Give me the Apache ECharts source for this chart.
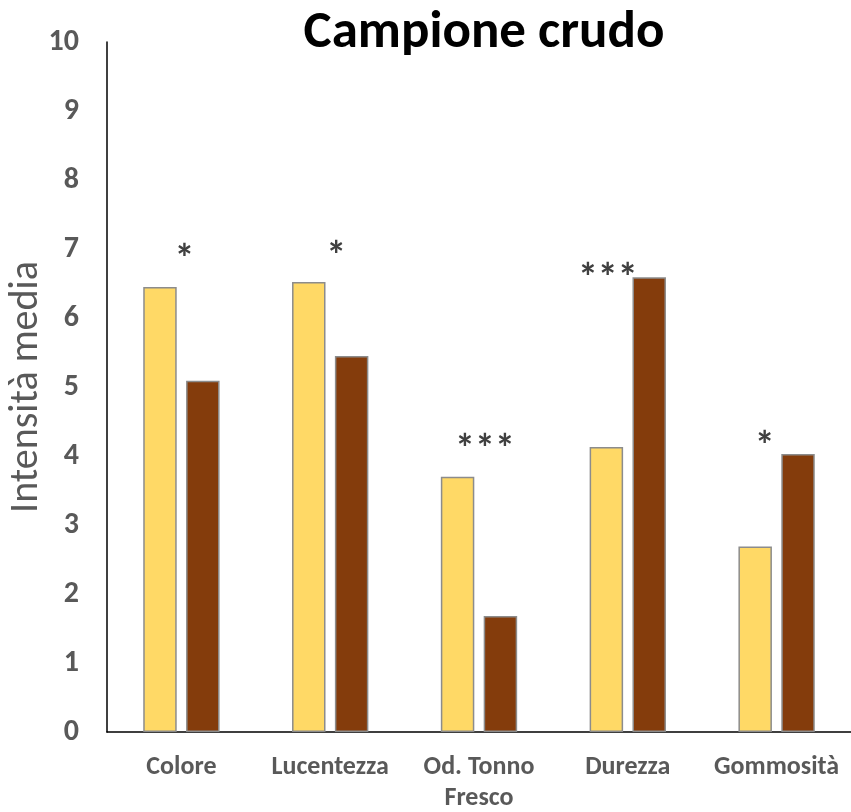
<!DOCTYPE html>
<html>
<head>
<meta charset="utf-8">
<script src="https://cdn.jsdelivr.net/npm/echarts@6/dist/echarts.min.js"></script>
<style>
  html, body { margin: 0; padding: 0; background: #ffffff; }
  #chart { width: 851px; height: 812px; }
</style>
</head>
<body>
<div id="chart"></div>
<script>
// Mean sensory intensity, raw sample
const categories = ['Colore', 'Lucentezza', 'Od. Tonno\nFresco', 'Durezza', 'Gommosità'];
const seriesA = [6.45, 6.52, 3.70, 4.13, 2.69];
const seriesB = [5.09, 5.45, 1.68, 6.59, 4.03];
// Significance marks and the height they sit at
const sigMarks = ['*', '*', '***', '***', '*'];
const sigHeights = [6.95, 7.0, 4.2, 6.68, 4.25];
const sigShift = [3, 6, 6, -20, -12];
const yTicks = [0, 1, 2, 3, 4, 5, 6, 7, 8, 9, 10];

const FONT = 'Carlito, Lato, "Open Sans", sans-serif';
const GREY = '#595959';

const chart = echarts.init(document.getElementById('chart'), null, { renderer: 'canvas' });

chart.setOption({
  animation: false,
  backgroundColor: '#ffffff',
  title: {
    text: 'Campione crudo',
    left: 479,
    top: 2,
    textAlign: 'center',
    textStyle: { fontFamily: FONT, fontWeight: 'bold', fontSize: 53, color: '#000000' }
  },
  grid: { left: 107, right: 0, top: 42, bottom: 80, outerBoundsMode: 'none', containLabel: false },
  xAxis: {
    type: 'category',
    data: categories,
    axisLine: { lineStyle: { color: '#000000', width: 1.5 } },
    axisTick: { show: false },
    axisLabel: {
      margin: 20,
      fontFamily: FONT, fontWeight: 'bold', fontSize: 26, color: GREY,
      lineHeight: 31, interval: 0
    }
  },
  yAxis: {
    type: 'value',
    min: yTicks[0],
    max: yTicks[yTicks.length - 1],
    interval: 1,
    name: 'Intensità media',
    nameLocation: 'middle',
    nameGap: 60,
    nameMoveOverlap: false,
    nameTextStyle: { fontFamily: FONT, fontSize: 40, color: GREY },
    axisLine: { show: true, lineStyle: { color: '#000000', width: 1.5 } },
    axisTick: { show: false },
    splitLine: { show: false },
    axisLabel: {
      margin: 28,
      fontFamily: FONT, fontWeight: 'bold', fontSize: 30, color: GREY
    }
  },
  series: [
    {
      type: 'bar',
      data: seriesA,
      barWidth: '22.5%',
      barGap: '28%',
      itemStyle: { color: '#FFD966', borderColor: '#8c8c8c', borderWidth: 1.5 }
    },
    {
      type: 'bar',
      data: seriesB,
      barWidth: '22.5%',
      barGap: '28%',
      itemStyle: { color: '#843C0C', borderColor: '#8c8c8c', borderWidth: 1.5 }
    },
    {
      type: 'scatter',
      symbolSize: 1,
      itemStyle: { opacity: 0 },
      data: sigHeights.map((h, i) => ({
        value: [i, h],
        label: {
          show: true,
          formatter: sigMarks[i],
          position: 'inside',
          offset: [sigShift[i], 10],
          fontFamily: FONT, fontWeight: 'bold', fontSize: 40, color: '#404040',
          opacity: 1
        }
      }))
    }
  ]
});
</script>
</body>
</html>
